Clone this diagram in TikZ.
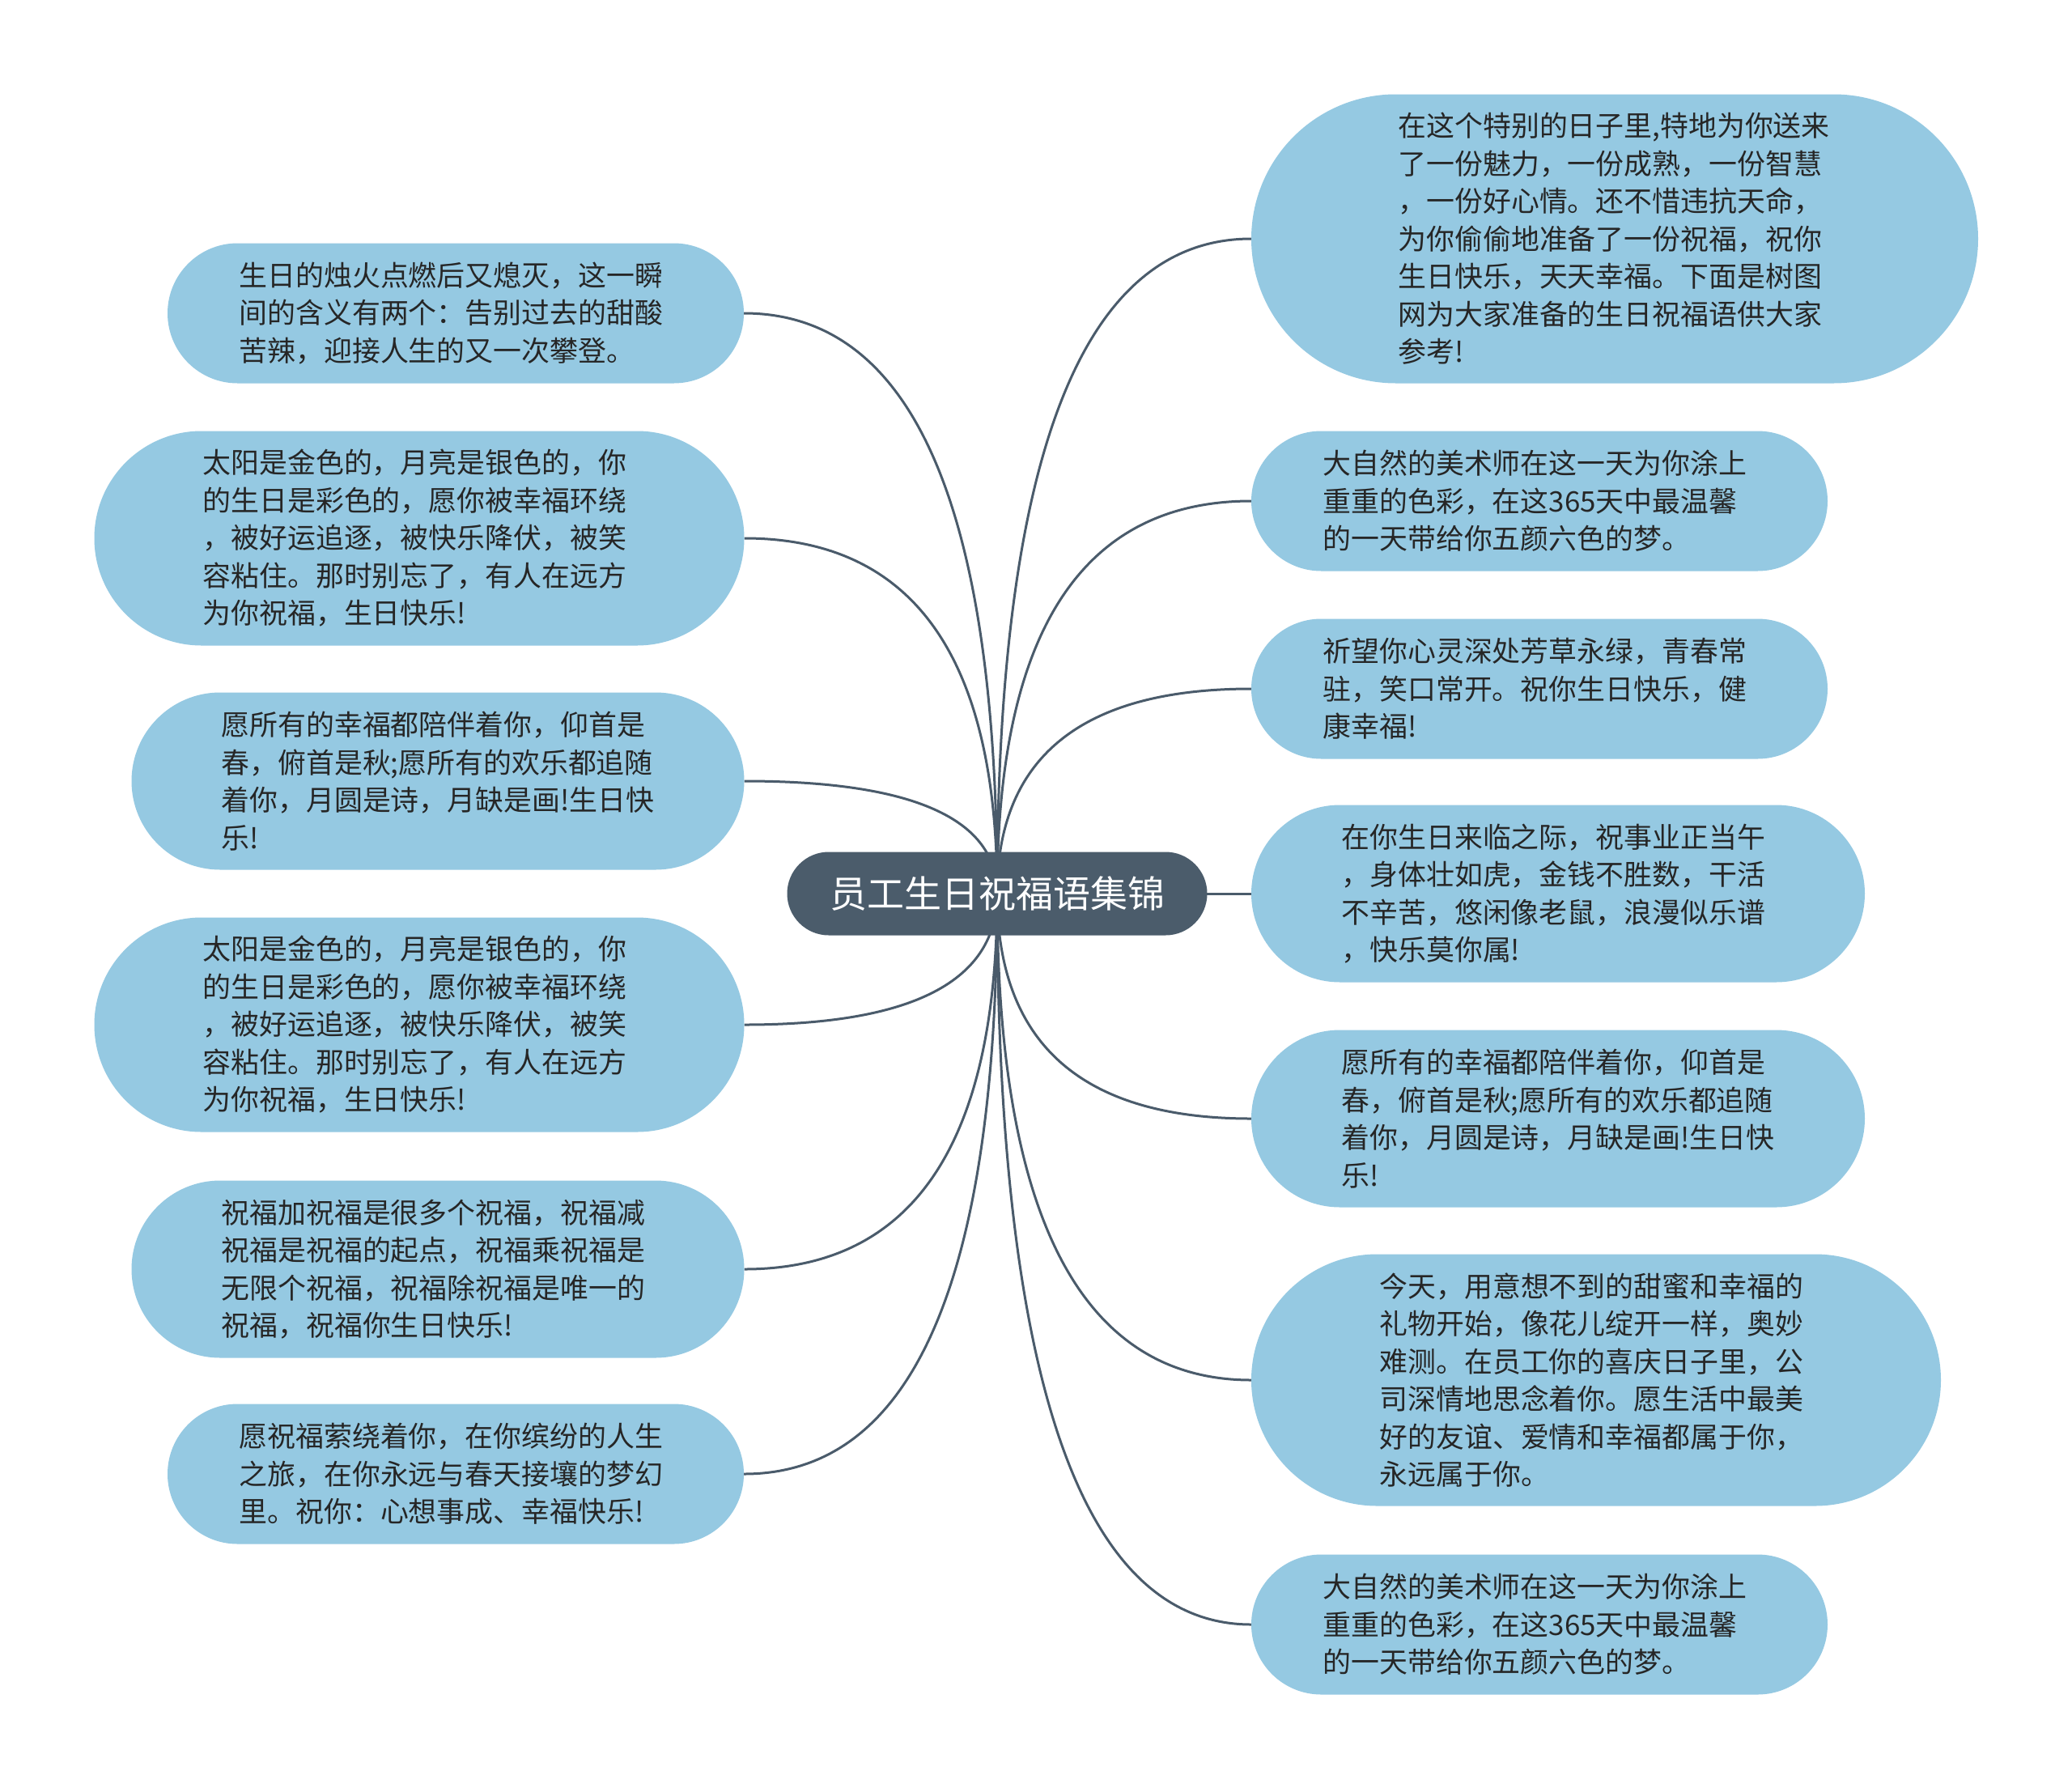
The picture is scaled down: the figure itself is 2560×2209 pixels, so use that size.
\documentclass[tikz,border=0pt]{standalone}
\usepackage{fontspec}
\newfontfamily\cjk{Noto Sans CJK SC}
\usetikzlibrary{calc,backgrounds}
\definecolor{leaffill}{HTML}{95C9E2}
\definecolor{rootfill}{HTML}{4B5C6B}
\definecolor{edgecol}{HTML}{4A5B6B}
\definecolor{txtcol}{HTML}{262626}
\newcommand\myconn[2]{\draw[conn] (#1.center) .. controls ($(#1.center)!2/3!(#1.center |- #2)$) and ($(#2)!2/3!(#1.center |- #2)$) .. (#2);}
\begin{document}
\begin{tikzpicture}[x=1pt,y=-1pt,
  leaf/.style={rectangle, fill=leaffill, text=txtcol, align=left, text width=535pt, inner sep=0pt,
    font=\cjk\fontsize{34.9}{46.5}\selectfont},
  rootnode/.style={rectangle, fill=rootfill, text=white, inner sep=0pt,
    minimum width=519pt, minimum height=103pt, rounded corners=51.5pt,
    font=\cjk\fontsize{46}{55}\selectfont},
  conn/.style={draw=edgecol, line width=3pt}]
\useasboundingbox (0,0) rectangle (2560,2209);

\node[rootnode] (C) at (1232,1104) {员工生日祝福语集锦};

% left side
\node[leaf, minimum width=712pt, minimum height=173pt, rounded corners=86.5pt] (L1) at (563,387)
 {生日的烛火点燃后又熄灭，这一瞬\\间的含义有两个：告别过去的甜酸\\苦辣，迎接人生的又一次攀登。};
\node[leaf, minimum width=803pt, minimum height=265pt, rounded corners=132.5pt] (L2) at (518,665)
 {太阳是金色的，月亮是银色的，你\\的生日是彩色的，愿你被幸福环绕\\，被好运追逐，被快乐降伏，被笑\\容粘住。那时别忘了，有人在远方\\为你祝福，生日快乐!};
\node[leaf, minimum width=757pt, minimum height=219pt, rounded corners=109.5pt] (L3) at (541,965)
 {愿所有的幸福都陪伴着你，仰首是\\春，俯首是秋;愿所有的欢乐都追随\\着你，月圆是诗，月缺是画!生日快\\乐!};
\node[leaf, minimum width=803pt, minimum height=265pt, rounded corners=132.5pt] (L4) at (518,1266)
 {太阳是金色的，月亮是银色的，你\\的生日是彩色的，愿你被幸福环绕\\，被好运追逐，被快乐降伏，被笑\\容粘住。那时别忘了，有人在远方\\为你祝福，生日快乐!};
\node[leaf, minimum width=757pt, minimum height=219pt, rounded corners=109.5pt] (L5) at (541,1568)
 {祝福加祝福是很多个祝福，祝福减\\祝福是祝福的起点，祝福乘祝福是\\无限个祝福，祝福除祝福是唯一的\\祝福，祝福你生日快乐!};
\node[leaf, minimum width=712pt, minimum height=173pt, rounded corners=86.5pt] (L6) at (563,1821)
 {愿祝福萦绕着你，在你缤纷的人生\\之旅，在你永远与春天接壤的梦幻\\里。祝你：心想事成、幸福快乐!};

% right side
\node[leaf, minimum width=898pt, minimum height=357pt, rounded corners=178.5pt] (R1) at (1995,295)
 {在这个特别的日子里,特地为你送来\\了一份魅力，一份成熟，一份智慧\\，一份好心情。还不惜违抗天命，\\为你偷偷地准备了一份祝福，祝你\\生日快乐，天天幸福。下面是树图\\网为大家准备的生日祝福语供大家\\参考!};
\node[leaf, minimum width=712pt, minimum height=173pt, rounded corners=86.5pt] (R2) at (1902,619)
 {大自然的美术师在这一天为你涂上\\重重的色彩，在这365天中最温馨\\的一天带给你五颜六色的梦。};
\node[leaf, minimum width=712pt, minimum height=173pt, rounded corners=86.5pt] (R3) at (1902,851)
 {祈望你心灵深处芳草永绿，青春常\\驻，笑口常开。祝你生日快乐，健\\康幸福!};
\node[leaf, minimum width=758pt, minimum height=219pt, rounded corners=109.5pt] (R4) at (1925,1104)
 {在你生日来临之际，祝事业正当午\\，身体壮如虎，金钱不胜数，干活\\不辛苦，悠闲像老鼠，浪漫似乐谱\\，快乐莫你属!};
\node[leaf, minimum width=758pt, minimum height=219pt, rounded corners=109.5pt] (R5) at (1925,1382)
 {愿所有的幸福都陪伴着你，仰首是\\春，俯首是秋;愿所有的欢乐都追随\\着你，月圆是诗，月缺是画!生日快\\乐!};
\node[leaf, minimum width=852pt, minimum height=311pt, rounded corners=155.5pt] (R6) at (1972,1705)
 {今天，用意想不到的甜蜜和幸福的\\礼物开始，像花儿绽开一样，奥妙\\难测。在员工你的喜庆日子里，公\\司深情地思念着你。愿生活中最美\\好的友谊、爱情和幸福都属于你，\\永远属于你。};
\node[leaf, minimum width=712pt, minimum height=173pt, rounded corners=86.5pt] (R7) at (1902,2007)
 {大自然的美术师在这一天为你涂上\\重重的色彩，在这365天中最温馨\\的一天带给你五颜六色的梦。};

\begin{scope}[on background layer]
\fill[white] (0,0) rectangle (2560,2209);
\myconn{C}{L1.east}
\myconn{C}{L2.east}
\myconn{C}{L3.east}
\myconn{C}{L4.east}
\myconn{C}{L5.east}
\myconn{C}{L6.east}
\myconn{C}{R1.west}
\myconn{C}{R2.west}
\myconn{C}{R3.west}
\myconn{C}{R4.west}
\myconn{C}{R5.west}
\myconn{C}{R6.west}
\myconn{C}{R7.west}
\end{scope}
\end{tikzpicture}
\end{document}
